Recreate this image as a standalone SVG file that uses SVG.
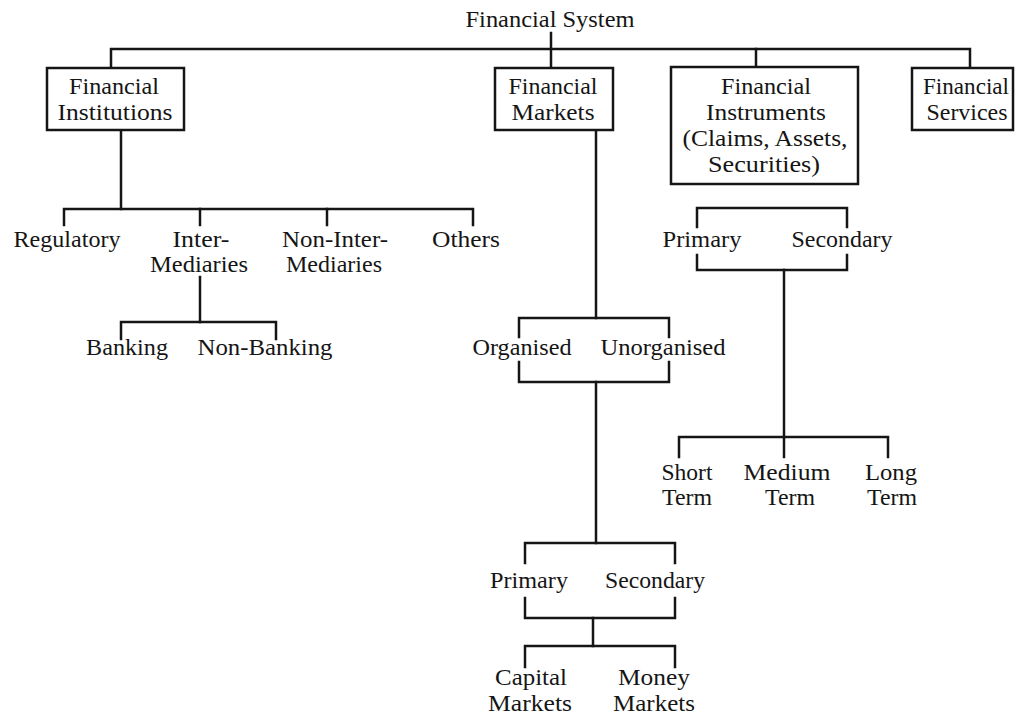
<svg xmlns="http://www.w3.org/2000/svg" width="1016" height="717" viewBox="0 0 1016 717" font-family="'Liberation Serif', 'Times New Roman', serif">
<style>
text{font-size:23px;fill:#151515;text-anchor:middle}
.box{fill:#fff;stroke:#151515;stroke-width:2.5}
#connectors path{fill:none;stroke:#151515;stroke-width:2.5;stroke-linecap:square}
</style>
<rect width="1016" height="717" fill="#fff"/>
<g id="connectors">
<path d="M551,33 V68"/>
<path d="M111,68 V49 H970 V68"/>
<path d="M756,49 V68"/>
<path d="M121,130 V209"/>
<path d="M64,225 V209 H473 V225"/>
<path d="M200,209 V225"/>
<path d="M327,209 V225"/>
<path d="M200,277 V322"/>
<path d="M121,339 V322 H276 V339"/>
<path d="M596,130 V318"/>
<path d="M519,337 V318 H669 V337"/>
<path d="M519,362 V382 H669 V362"/>
<path d="M596,382 V543"/>
<path d="M525,563 V543 H675 V563"/>
<path d="M525,598 V618 H675 V598"/>
<path d="M593,618 V646"/>
<path d="M525,667 V646 H675 V667"/>
<path d="M697,227 V208 H847 V227"/>
<path d="M697,255 V270 H847 V255"/>
<path d="M784,270 V457"/>
<path d="M679,457 V437 H888 V457"/>
</g>
<g id="financial-system"><text x="550" y="27" textLength="169" lengthAdjust="spacingAndGlyphs">Financial System</text></g>
<g id="financial-institutions">
<rect class="box" x="47" y="68" width="137" height="62"/>
<text x="114" y="94" textLength="90" lengthAdjust="spacingAndGlyphs">Financial</text>
<text x="115" y="120" textLength="115" lengthAdjust="spacingAndGlyphs">Institutions</text>
</g>
<g id="financial-markets">
<rect class="box" x="495" y="68" width="118" height="62"/>
<text x="553" y="94" textLength="89" lengthAdjust="spacingAndGlyphs">Financial</text>
<text x="553" y="120" textLength="83" lengthAdjust="spacingAndGlyphs">Markets</text>
</g>
<g id="financial-instruments">
<rect class="box" x="671" y="67" width="187" height="117"/>
<text x="766" y="94" textLength="90" lengthAdjust="spacingAndGlyphs">Financial</text>
<text x="766" y="120" textLength="120" lengthAdjust="spacingAndGlyphs">Instruments</text>
<text x="765" y="146" textLength="165" lengthAdjust="spacingAndGlyphs">(Claims, Assets,</text>
<text x="764" y="172" textLength="112" lengthAdjust="spacingAndGlyphs">Securities)</text>
</g>
<g id="financial-services">
<rect class="box" x="912" y="68" width="101" height="62"/>
<text x="966" y="94" textLength="86" lengthAdjust="spacingAndGlyphs">Financial</text>
<text x="967" y="120" textLength="81" lengthAdjust="spacingAndGlyphs">Services</text>
</g>
<g id="regulatory"><text x="67" y="247" textLength="107" lengthAdjust="spacingAndGlyphs">Regulatory</text></g>
<g id="intermediaries"><text x="201" y="247" textLength="57" lengthAdjust="spacingAndGlyphs">Inter-</text><text x="199" y="272" textLength="98" lengthAdjust="spacingAndGlyphs">Mediaries</text></g>
<g id="non-intermediaries"><text x="335" y="247" textLength="106" lengthAdjust="spacingAndGlyphs">Non-Inter-</text><text x="334" y="272" textLength="96" lengthAdjust="spacingAndGlyphs">Mediaries</text></g>
<g id="others"><text x="466" y="247" textLength="68" lengthAdjust="spacingAndGlyphs">Others</text></g>
<g id="banking"><text x="127" y="355" textLength="82" lengthAdjust="spacingAndGlyphs">Banking</text></g>
<g id="non-banking"><text x="265" y="355" textLength="135" lengthAdjust="spacingAndGlyphs">Non-Banking</text></g>
<g id="organised"><text x="522" y="355" textLength="99" lengthAdjust="spacingAndGlyphs">Organised</text></g>
<g id="unorganised"><text x="663" y="355" textLength="125" lengthAdjust="spacingAndGlyphs">Unorganised</text></g>
<g id="markets-primary"><text x="529" y="588" textLength="78" lengthAdjust="spacingAndGlyphs">Primary</text></g>
<g id="markets-secondary"><text x="655" y="588" textLength="100" lengthAdjust="spacingAndGlyphs">Secondary</text></g>
<g id="capital-markets"><text x="531" y="685" textLength="72" lengthAdjust="spacingAndGlyphs">Capital</text><text x="530" y="711" textLength="84" lengthAdjust="spacingAndGlyphs">Markets</text></g>
<g id="money-markets"><text x="654" y="685" textLength="72" lengthAdjust="spacingAndGlyphs">Money</text><text x="654" y="711" textLength="82" lengthAdjust="spacingAndGlyphs">Markets</text></g>
<g id="instruments-primary"><text x="702" y="247" textLength="79" lengthAdjust="spacingAndGlyphs">Primary</text></g>
<g id="instruments-secondary"><text x="842" y="247" textLength="101" lengthAdjust="spacingAndGlyphs">Secondary</text></g>
<g id="short-term"><text x="687" y="480" textLength="51" lengthAdjust="spacingAndGlyphs">Short</text><text x="687" y="505" textLength="50" lengthAdjust="spacingAndGlyphs">Term</text></g>
<g id="medium-term"><text x="787" y="480" textLength="87" lengthAdjust="spacingAndGlyphs">Medium</text><text x="790" y="505" textLength="50" lengthAdjust="spacingAndGlyphs">Term</text></g>
<g id="long-term"><text x="891" y="480" textLength="52" lengthAdjust="spacingAndGlyphs">Long</text><text x="892" y="505" textLength="50" lengthAdjust="spacingAndGlyphs">Term</text></g>
</svg>
